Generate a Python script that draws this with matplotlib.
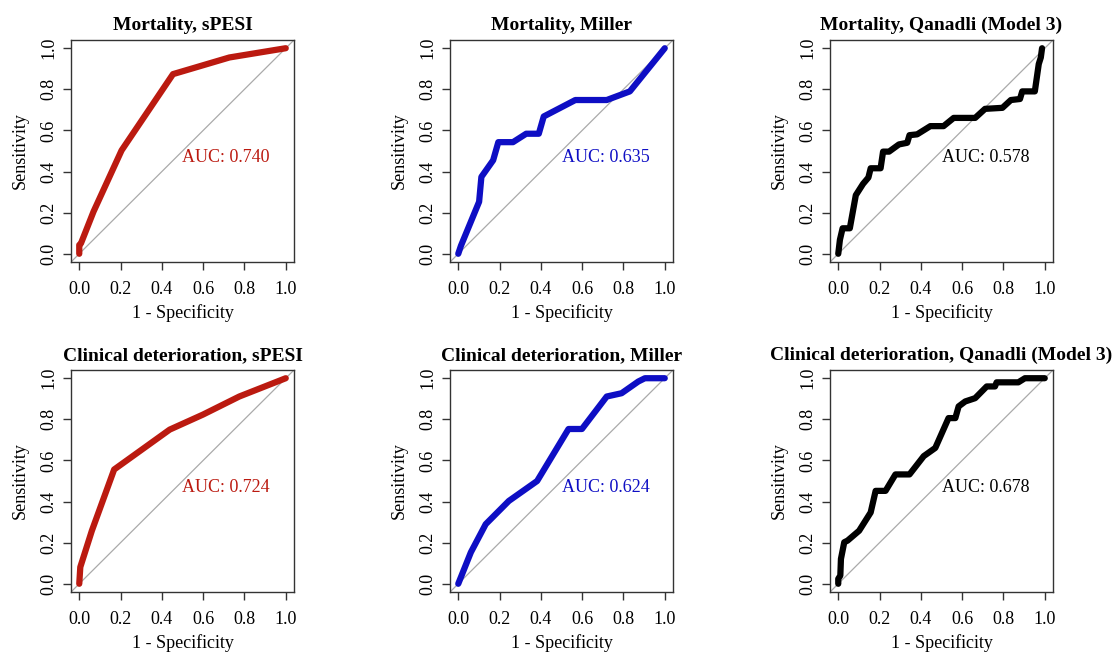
import matplotlib.pyplot as plt
import numpy as np

plt.rcParams['font.family'] = ['Liberation Serif', 'DejaVu Serif']

titles = ['Mortality, sPESI', 'Mortality, Miller', 'Mortality, Qanadli (Model 3)',
          'Clinical deterioration, sPESI', 'Clinical deterioration, Miller',
          'Clinical deterioration, Qanadli (Model 3)']
auc_labels = ['AUC: 0.740', 'AUC: 0.635', 'AUC: 0.578',
              'AUC: 0.724', 'AUC: 0.624', 'AUC: 0.678']
colors = ['#bb1a10', '#0e0ec4', '#000000', '#bb1a10', '#0e0ec4', '#000000']

# 1 - specificity (x) and sensitivity (y)
mort_spesi_x = [0, 0, 0.008, 0.069, 0.205, 0.454, 0.727, 1.0]
mort_spesi_y = [0, 0.043, 0.05, 0.205, 0.503, 0.874, 0.955, 1.0]

mort_miller_x = [0, 0.013, 0.101, 0.112, 0.169, 0.194, 0.265, 0.329, 0.39, 0.414,
                 0.567, 0.719, 0.831, 1.0]
mort_miller_y = [0, 0.039, 0.253, 0.374, 0.455, 0.543, 0.543, 0.584, 0.584, 0.668,
                 0.748, 0.748, 0.79, 1.0]

mort_qanadli_x = [0, 0.008, 0.021, 0.056, 0.085, 0.12, 0.146, 0.157, 0.205, 0.217,
                  0.246, 0.294, 0.334, 0.345, 0.382, 0.446, 0.51, 0.559, 0.663,
                  0.711, 0.795, 0.836, 0.88, 0.891, 0.952, 0.971, 0.981, 0.987]
mort_qanadli_y = [0, 0.068, 0.124, 0.124, 0.285, 0.34, 0.371, 0.416, 0.416, 0.497,
                  0.497, 0.532, 0.54, 0.577, 0.581, 0.621, 0.621, 0.661, 0.661,
                  0.705, 0.71, 0.748, 0.753, 0.79, 0.79, 0.923, 0.955, 1.0]

clin_spesi_x = [0, 0.005, 0.061, 0.169, 0.438, 0.599, 0.775, 1.0]
clin_spesi_y = [0, 0.081, 0.258, 0.556, 0.75, 0.823, 0.911, 1.0]

clin_miller_x = [0, 0.061, 0.133, 0.245, 0.382, 0.534, 0.599, 0.719, 0.791, 0.872,
                 0.904, 1.0]
clin_miller_y = [0, 0.153, 0.29, 0.403, 0.5, 0.753, 0.753, 0.911, 0.927, 0.984,
                 1.0, 1.0]

clin_qanadli_x = [0, 0, 0.01, 0.013, 0.029, 0.045, 0.101, 0.157, 0.181, 0.229,
                  0.277, 0.345, 0.414, 0.47, 0.534, 0.567, 0.583, 0.615, 0.663,
                  0.719, 0.759, 0.767, 0.872, 0.904, 1.0]
clin_qanadli_y = [0, 0.024, 0.04, 0.121, 0.202, 0.21, 0.258, 0.347, 0.452, 0.452,
                  0.532, 0.532, 0.621, 0.661, 0.806, 0.806, 0.863, 0.887, 0.903,
                  0.96, 0.96, 0.98, 0.98, 1.0, 1.0]

curves = [(mort_spesi_x, mort_spesi_y), (mort_miller_x, mort_miller_y),
          (mort_qanadli_x, mort_qanadli_y), (clin_spesi_x, clin_spesi_y),
          (clin_miller_x, clin_miller_y), (clin_qanadli_x, clin_qanadli_y)]

fig = plt.figure(figsize=(11.12, 6.56), dpi=100)
W, H = 1112, 656
lefts = [71, 450, 830]
tops = [40, 370]
bw, bh = 223, 222
ticks = np.arange(0, 1.01, 0.2)

for i, (xs, ys) in enumerate(curves):
    r, c = divmod(i, 3)
    ax = fig.add_axes([lefts[c] / W, 1 - (tops[r] + bh) / H, bw / W, bh / H])
    ax.axline((0, 0), (1, 1), color='#aaaaaa', lw=0.9, zorder=1)
    ax.plot(xs, ys, color=colors[i], lw=4.5, solid_capstyle='round',
            solid_joinstyle='round', zorder=2)
    ax.text(0.5, 0.47, auc_labels[i], color=colors[i], fontsize=13,
            ha='left', va='center')
    ax.set_xlim(-0.04, 1.04)
    ax.set_ylim(-0.04, 1.04)
    ax.set_xticks(ticks)
    ax.set_yticks(ticks)
    ax.set_xticklabels([f'{t:.1f}' for t in ticks])
    ax.set_yticklabels([f'{t:.1f}' for t in ticks], rotation=90, va='center')
    ax.tick_params(length=6, width=1, labelsize=13, color='#333333')
    ax.tick_params(axis='x', pad=8)
    ax.tick_params(axis='y', pad=4)
    for s in ax.spines.values():
        s.set_color('#333333')
        s.set_linewidth(1)
    ax.set_xlabel('1 - Specificity', fontsize=13, labelpad=4)
    ax.set_ylabel('Sensitivity', fontsize=13, labelpad=8)
    ax.set_title(titles[i], fontsize=14, fontweight='bold', pad=7)

fig.savefig('out.png', dpi=100)
